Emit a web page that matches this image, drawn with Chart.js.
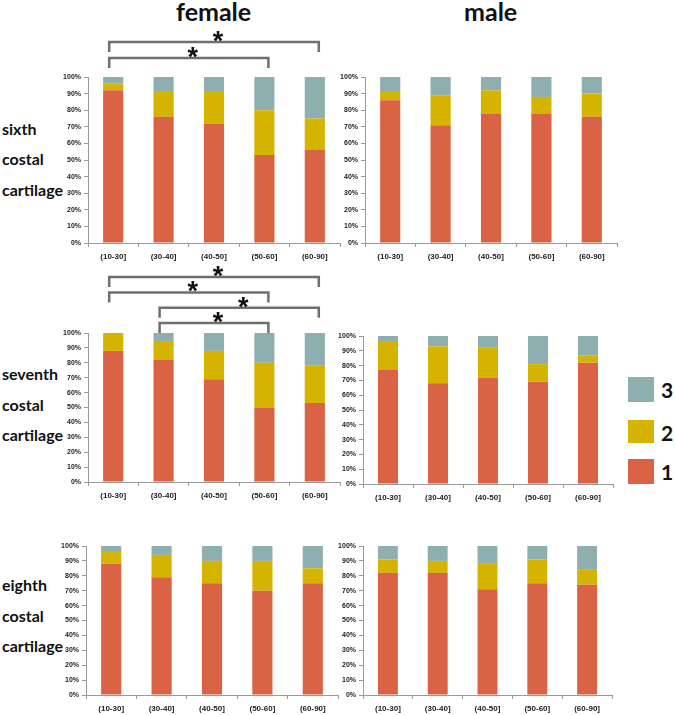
<!DOCTYPE html>
<html>
<head>
<meta charset="utf-8">
<script src="https://cdn.jsdelivr.net/npm/chart.js@4.4.1/dist/chart.umd.min.js"></script>
<style>
  body { margin: 0; background: #fff; width: 675px; height: 715px; position: relative; overflow: hidden; font-family: Lato, "Open Sans", sans-serif; }
  canvas { position: absolute; }
  .title { position: absolute; font-weight: bold; font-size: 25px; color: #111; }
  .row { position: absolute; left: 2px; font-weight: bold; font-size: 16px; color: #111; line-height: 17px; }
  .lg { position: absolute; left: 628px; width: 26px; }
  .lgt { position: absolute; left: 661px; font-weight: bold; font-size: 21px; color: #111; line-height: 21px; }
</style>
</head>
<body>

<div class="title" style="left:176px;top:-4px">female</div>
<div class="title" style="left:464px;top:-4px">male</div>

<div class="row" style="top:120px">sixth</div>
<div class="row" style="top:150px">costal</div>
<div class="row" style="top:181px">cartilage</div>
<div class="row" style="top:365px">seventh</div>
<div class="row" style="top:396px">costal</div>
<div class="row" style="top:426px">cartilage</div>
<div class="row" style="top:576px">eighth</div>
<div class="row" style="top:607px">costal</div>
<div class="row" style="top:637px">cartilage</div>

<div id="legend"></div>

<canvas id="c1" width="284" height="243" style="left:58px;top:20px"></canvas>
<canvas id="c2" width="284" height="203" style="left:335px;top:60px"></canvas>
<canvas id="c3" width="284" height="247" style="left:58px;top:255px"></canvas>
<canvas id="c4" width="282" height="188" style="left:333px;top:316px"></canvas>
<canvas id="c5" width="284" height="189" style="left:56px;top:526px"></canvas>
<canvas id="c6" width="281" height="189" style="left:333px;top:526px"></canvas>

<script>
// age groups on the x axis
const ageGroups = ['(10-30]', '(30-40]', '(40-50]', '(50-60]', '(60-90]']
const gradeNames = ['1', '2', '3']
const gradeColors = ['#da6245', '#d5b400', '#8eafb0']
const yTicks = [0, 10, 20, 30, 40, 50, 60, 70, 80, 90, 100]

// sixth costal cartilage (%)
const sixthFemale1 = [92, 76, 72, 53, 56]
const sixthFemale2 = [4, 15, 19, 27, 19]
const sixthFemale3 = [4, 9, 9, 20, 25]
const sixthMale1 = [86, 71, 78, 78, 76]
const sixthMale2 = [5, 18, 14, 10, 14]
const sixthMale3 = [9, 11, 8, 12, 10]

// seventh costal cartilage (%)
const seventhFemale1 = [88, 82, 69, 50, 53]
const seventhFemale2 = [12, 12, 19, 30, 25]
const seventhFemale3 = [0, 6, 12, 20, 22]
const seventhMale1 = [77, 68, 72, 69, 82]
const seventhMale2 = [19, 25, 20, 12, 5]
const seventhMale3 = [4, 7, 8, 19, 13]

// eighth costal cartilage (%)
const eighthFemale1 = [88, 79, 75, 70, 75]
const eighthFemale2 = [8, 15, 15, 20, 10]
const eighthFemale3 = [4, 6, 10, 10, 15]
const eighthMale1 = [82, 82, 71, 75, 74]
const eighthMale2 = [9, 8, 17, 16, 10]
const eighthMale3 = [9, 10, 12, 9, 16]

// significant pairs (index of age group), level 0 = nearest to bars
const sixthFemalePairs = [[0, 3, 0], [0, 4, 1]]
const seventhFemalePairs = [[1, 3, 0], [1, 4, 1], [0, 3, 2], [0, 4, 3]]

const bracketPlugin = {
    id: 'brackets',
    afterDraw(chart, args, opts) {
        if (!opts.pairs) return
        const ctx = chart.ctx
        const x = chart.scales.x
        ctx.save()
        ctx.strokeStyle = '#6f6f6f'
        ctx.lineWidth = 2.5
        ctx.fillStyle = '#111'
        ctx.font = 'bold 27px "Liberation Sans"'
        ctx.textAlign = 'center'
        opts.pairs.forEach(p => {
            const x1 = x.getPixelForValue(p[0]) - 4
            const x2 = x.getPixelForValue(p[1]) + 4
            const y = chart.chartArea.top - opts.base - p[2] * opts.step
            ctx.beginPath()
            ctx.moveTo(x1, y + opts.drop)
            ctx.lineTo(x1, y)
            ctx.lineTo(x2, y)
            ctx.lineTo(x2, y + opts.drop)
            ctx.stroke()
            ctx.fillText('*', (x1 + x2) / 2 + 4, y + 8)
        })
        ctx.restore()
    }
}

function makeChart(id, d1, d2, d3, padTop, pairs, base, step) {
    const sets = [d1, d2, d3].map((d, i) => ({
        label: gradeNames[i],
        data: d,
        backgroundColor: gradeColors[i],
        barPercentage: 0.4,
        categoryPercentage: 1
    }))
    return new Chart(document.getElementById(id), {
        type: 'bar',
        data: { labels: ageGroups, datasets: sets },
        plugins: [bracketPlugin],
        options: {
            responsive: false,
            animation: false,
            layout: { padding: { top: padTop, right: 2, left: 0, bottom: 0 } },
            plugins: {
                legend: { display: false },
                tooltip: { enabled: false },
                brackets: { pairs: pairs, base: base, step: step, drop: 10 }
            },
            scales: {
                x: {
                    stacked: true,
                    afterFit: s => { s.height = 20 },
                    border: { color: '#9a9a9a' },
                    grid: { drawOnChartArea: false, tickLength: 4, color: '#9a9a9a' },
                    ticks: { color: '#222', padding: 5, font: { size: 8, weight: 'bold', family: 'Liberation Sans' }, maxRotation: 0 }
                },
                y: {
                    stacked: true,
                    min: 0,
                    max: 100,
                    afterFit: s => { s.width = 30 },
                    afterBuildTicks: s => { s.ticks = yTicks.map(v => ({ value: v })) },
                    border: { color: '#9a9a9a' },
                    grid: { drawOnChartArea: false, tickLength: 4, color: '#9a9a9a' },
                    ticks: { color: '#222', padding: 3, font: { size: 7, weight: 'bold', family: 'Liberation Sans' }, callback: v => v + '%' }
                }
            }
        }
    })
}

makeChart('c1', sixthFemale1, sixthFemale2, sixthFemale3, 57, sixthFemalePairs, 19, 16)
makeChart('c2', sixthMale1, sixthMale2, sixthMale3, 17)
makeChart('c3', seventhFemale1, seventhFemale2, seventhFemale3, 78, seventhFemalePairs, 10, 15.3)
makeChart('c4', seventhMale1, seventhMale2, seventhMale3, 20)
makeChart('c5', eighthFemale1, eighthFemale2, eighthFemale3, 20)
makeChart('c6', eighthMale1, eighthMale2, eighthMale3, 20)

// legend, top to bottom: 3, 2, 1
const legendTops = [459, 420, 377]
let html = ''
gradeNames.forEach((g, i) => {
    html += '<div class="lg" style="top:' + legendTops[i] + 'px;height:' + (i == 1 ? 23 : 25) + 'px;background:' + gradeColors[i] + '"></div>'
    html += '<div class="lgt" style="top:' + (legendTops[i] + 2) + 'px">' + g + '</div>'
})
document.getElementById('legend').innerHTML = html
</script>
</body>
</html>
